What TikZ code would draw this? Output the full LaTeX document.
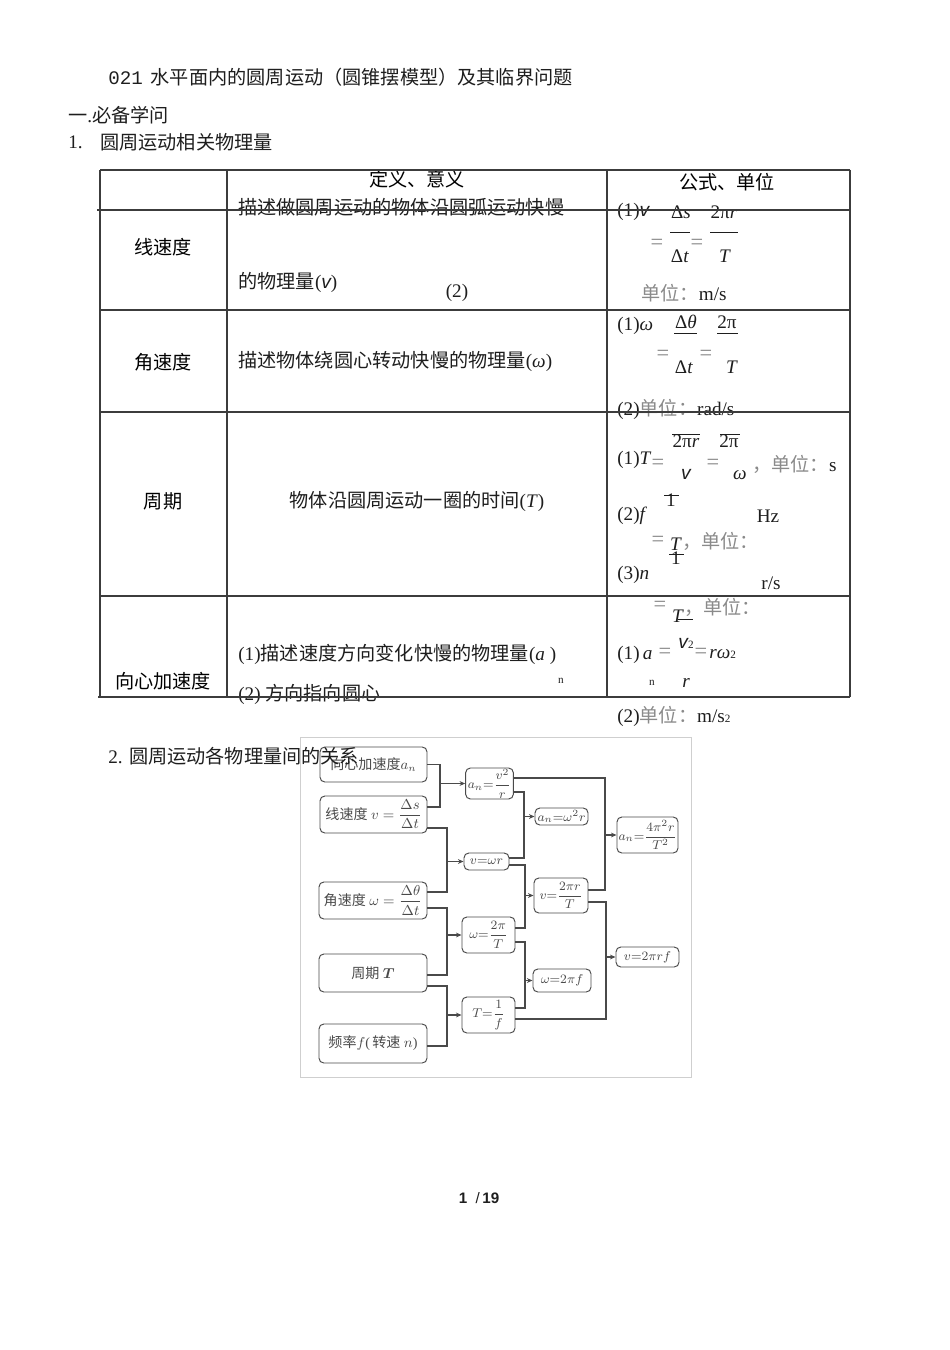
\documentclass[tikz,border=0pt]{standalone}
\usepackage{amsmath}
\usepackage{fontspec}
\setmainfont{Liberation Serif}
\setsansfont{Liberation Sans}
\setmonofont{Liberation Mono}
\newfontfamily\cjk{Noto Sans CJK SC}
\usetikzlibrary{calc,arrows.meta}
\definecolor{txt}{HTML}{1E1E1E}
\definecolor{gr}{HTML}{8A8A8A}
\definecolor{tl}{HTML}{3C3C3C}
\definecolor{fc}{HTML}{4A4A4A}
\definecolor{frm}{HTML}{CFCFCF}
\newcommand\C[1]{{\cjk #1}}
\newcommand\fsz{\fontsize{12}{14}\selectfont}
\newcommand\fsm{\fontsize{8.8}{10}\selectfont}
\newcommand\fsf{\fontsize{8}{9}\selectfont}
\newcommand\fss{\fontsize{7}{8}\selectfont}
\newcommand\px[1]{#1*0.626pt}
\newcommand\sv{{\sffamily\itshape v}}
\begin{document}
\begin{tikzpicture}[x=0.626pt,y=-0.626pt,
  tx/.style={anchor=west,inner sep=0,font=\fsz,text=txt},
  tc/.style={inner sep=0,font=\fsz,text=txt},
  eq/.style={inner sep=0,font=\fontsize{14}{14}\selectfont,text=gr},
  hd/.style={inner sep=0,font=\cjk\fontsize{12}{14}\selectfont,text=black},
  tab/.style={draw=tl,line width=0.8pt},
  bar/.style={draw=txt,line width=0.6pt},
  flowbox/.style={draw=fc,rounded corners=3pt,line width=0.6pt,inner sep=0,font=\fsm,text=fc},
  fbox2/.style={flowbox,font=\fsf},
  fl/.style={draw=fc,line width=0.7pt},
  fa/.style={draw=fc,line width=0.7pt,-{Stealth[length=3.5pt,width=3pt]}}]
\fill[white] (0,0) rectangle (950,1350);
\useasboundingbox (0,0) rectangle (950,1350);

% ---------- headings ----------
\node[tx] (title) at (108,77) {\texttt{021}\hspace{5pt}\C{水平面内的圆周运动（圆锥摆模型）及其临界问题}};
\node[tx] (sec1) at (68,115) {\C{一}.\C{必备学问}};
\node[tx] (num1) at (68,142) {1.};
\node[tx] (sub1) at (100,142) {\C{圆周运动相关物理量}};

% ---------- table text ----------
\node[hd] (h1) at (417,179) {定义、意义};
\node[hd] (h2) at (727,182) {公式、单位};
\node[hd] (l1) at (163,247) {线速度};
\node[hd] (l2) at (163,362) {角速度};
\node[hd] (l3) at (163,501) {周期};
\node[hd] (l4) at (163,681) {向心加速度};

\node[tx] (m1a) at (238,207) {\C{描述做圆周运动的物体沿圆弧运动快慢}};
\node[tx] (m1b) at (238,282) {\C{的物理量}(\sv)};
\node[tc] (m1c) at (457,293) {(2)};
\node[tx] (m2) at (238,361) {\C{描述物体绕圆心转动快慢的物理量}(\textit{ω})};
\node[tc] (m3) at (417,501) {\C{物体沿圆周运动一圈的时间}(\textit{T})};
\node[tx] (m4a) at (238,654) {(1)\C{描述速度方向变化快慢的物理量}(\textit{a} )};
\node[tc,font=\fss] (m4n) at (561,681) {n};
\node[tx] (m4b) at (238,694) {(2) \C{方向指向圆心}};

% row 1 right
\node[tx] (r1a) at (617,212) {(1)\sv};
\node[tc] (r1b) at (681,212) {Δ\textit{s}};
\node[tc] (r1c) at (724,212) {2π\textit{r}};
\draw[bar] (670,232) -- (690,232);
\draw[bar] (710,232) -- (738,232);
\node[eq] (r1e1) at (657,244) {=};
\node[eq] (r1e2) at (697,244) {=};
\node[tc] (r1d) at (680,256) {Δ\textit{t}};
\node[tc] (r1f) at (725,256) {\textit{T}};
\node[tx] (r1u) at (641,293) {\textcolor{gr}{\C{单位：}}m/s};

% row 2 right
\node[tx] (r2a) at (617,326) {(1)\textit{ω}};
\node[tc] (r2b) at (686,322) {Δ\textit{θ}};
\node[tc] (r2c) at (727,322) {2π};
\draw[bar] (674,333) -- (697,333);
\draw[bar] (717,333) -- (738,333);
\node[eq] (r2e1) at (663,355) {=};
\node[eq] (r2e2) at (706,355) {=};
\node[tc] (r2d) at (684,367) {Δ\textit{t}};
\node[tc] (r2f) at (732,367) {\textit{T}};
\node[tx] (r2u) at (617,409) {(2)\textcolor{gr}{\C{单位：}}rad/s};

% row 3 right
\draw[bar] (672,434) -- (700,434);
\draw[bar] (720,434) -- (740,434);
\node[tc] (r3b) at (686,441) {2π\textit{r}};
\node[tc] (r3c) at (729,441) {2π};
\node[tx] (r3a) at (617,460) {(1)\textit{T}};
\node[eq] (r3e1) at (658,464) {=};
\node[tc] (r3v) at (686,474) {\sv};
\node[eq] (r3e2) at (713,464) {=};
\node[tc] (r3w) at (740,475) {\textit{ω}};
\node[tx] (r3u) at (752,464) {\textcolor{gr}{\C{，单位：}}s};
\node[tc] (r3one) at (671,500) {1};
\draw[bar] (664,495) -- (679,495);
\node[tx] (r3f) at (617,516) {(2)\textit{f}};
\node[tc] (r3hz) at (768,516) {Hz};
\node[eq] (r3e3) at (658,541) {=};
\node[tc] (r3T) at (676,544) {\textit{T}};
\node[tx] (r3u2) at (682,541) {\textcolor{gr}{\C{，单位：}}};
\node[tc] (r3one2) at (676,558) {1};
\draw[bar] (669,554) -- (684,554);
\node[tx] (r3n) at (617,575) {(3)\textit{n}};
\node[tc] (r3rs) at (771,583) {r/s};
\node[eq] (r3e4) at (660,606) {=};
\node[tc] (r3T2) at (678,616) {\textit{T}};
\draw[bar] (678,619) -- (693,619);
\node[tx] (r3u3) at (684,607) {\textcolor{gr}{\C{，单位：}}};

% row 4 right
\node[tx] (r4a) at (617,655) {(1)\,\textit{a}};
\node[eq] (r4e1) at (665,653) {=};
\node[tc] (r4v) at (686,643) {\sv\fss 2};
\node[eq] (r4e2) at (701,653) {=};
\node[tx] (r4b) at (709,654) {\textit{rω}\fss 2};
\node[tc,font=\fss] (r4n) at (652,683) {n};
\node[tc] (r4r) at (686,683) {\textit{r}};
\node[tx] (r4u) at (617,716) {(2)\textcolor{gr}{\C{单位：}}m/s\fss 2};

% ---------- table lines ----------
\draw[tab] (100,170) -- (850,170);
\draw[tab] (97,210) -- (850,210);
\draw[tab] (100,310) -- (850,310);
\draw[tab] (100,412) -- (850,412);
\draw[tab] (100,596) -- (850,596);
\draw[tab] (98,697) -- (850,697);
\draw[tab] (100,170) -- (100,697);
\draw[tab] (227,170) -- (227,697);
\draw[tab] (607,170) -- (607,697);
\draw[tab] (850,170) -- (850,697);

% ---------- flow chart ----------
\draw[frm,line width=0.6pt] (300,737) rectangle (691,1077);

\node[flowbox,minimum width={\px{107}},minimum height={\px{35}}] (ac) at (373.5,764.5) {\C{向心加速度}$a_n$};
\node[flowbox,minimum width={\px{107}},minimum height={\px{37}}] (lv) at (373.5,814.5) {\C{线速度} $v=\dfrac{\Delta s}{\Delta t}$};
\node[flowbox,minimum width={\px{108}},minimum height={\px{37}}] (av) at (373,900.5) {\C{角速度} $\omega=\dfrac{\Delta \theta}{\Delta t}$};
\node[flowbox,minimum width={\px{108}},minimum height={\px{38}}] (pT) at (373,973) {\C{周期} $\boldsymbol{T}$};
\node[flowbox,minimum width={\px{108}},minimum height={\px{39}}] (fr) at (373,1043.5) {\C{频率}$f$(\,\C{转速} $n$)};

\node[fbox2,minimum width={\px{41}},minimum height={\px{31}}] (f1) at (489.5,783.5) {\,$a_n{=}\dfrac{v^2}{r}$\,};
\node[fbox2,minimum width={\px{45}},minimum height={\px{17}}] (f2) at (486.5,861.5) {$v{=}\omega r$};
\node[fbox2,minimum width={\px{53}},minimum height={\px{36}}] (f3) at (488.5,935) {$\omega{=}\dfrac{2\pi}{T}$};
\node[fbox2,minimum width={\px{53}},minimum height={\px{36}}] (f4) at (488.5,1015) {$T{=}\dfrac{1}{f}$};

\node[fbox2,minimum width={\px{53}},minimum height={\px{17}}] (g1) at (561.5,816.5) {$a_n{=}\omega^2 r$};
\node[fbox2,minimum width={\px{54}},minimum height={\px{35}}] (g2) at (561,895.5) {$v{=}\dfrac{2\pi r}{T}$};
\node[fbox2,minimum width={\px{58}},minimum height={\px{23}}] (g3) at (562,980.5) {$\omega{=}2\pi f$};

\node[fbox2,minimum width={\px{61}},minimum height={\px{36}}] (h1b) at (647.5,835) {$a_n{=}\dfrac{4\pi^2 r}{T^2}$};
\node[fbox2,minimum width={\px{63}},minimum height={\px{20}}] (h2b) at (647.5,957) {$v{=}2\pi rf$};

% junction coordinates
\coordinate (j1) at (440,783.5);
\coordinate (j2) at (447,861.5);
\coordinate (j3) at (447,935);
\coordinate (j4) at (447,1015);
\coordinate (j5) at (524,816.5);
\coordinate (j6) at (525,895.5);
\coordinate (j7) at (525,980.5);
\coordinate (j8) at (605,835);
\coordinate (j9) at (606,957);

\draw[fl] (ac.east) -| (j1) |- ($(lv.east)+(0,-7.5)$);
\draw[fa] (j1) -- (f1.west);
\draw[fl] ($(lv.east)+(0,13.5)$) -| (j2) |- ($(av.east)+(0,-8.5)$);
\draw[fa] (j2) -- (f2.west);
\draw[fl] ($(av.east)+(0,7.5)$) -| (j3) |- ($(pT.east)+(0,2)$);
\draw[fa] (j3) -- (f3.west);
\draw[fl] ($(pT.east)+(0,13)$) -| (j4) |- ($(fr.east)+(0,2.5)$);
\draw[fa] (j4) -- (f4.west);

\draw[fl] ($(f1.east)+(0,8.5)$) -| (j5) |- ($(f2.east)+(0,-3.5)$);
\draw[fa] (j5) -- (g1.west);
\draw[fl] ($(f2.east)+(0,3.5)$) -| (j6) |- ($(f3.east)+(0,-7)$);
\draw[fa] (j6) -- (g2.west);
\draw[fl] ($(f3.east)+(0,7)$) -| (j7) |- ($(f4.east)+(0,-7)$);
\draw[fa] (j7) -- (g3.west);

\draw[fl] ($(f1.east)+(0,-5.5)$) -| (j8) |- ($(g2.east)+(0,-5.5)$);
\draw[fa] (j8) -- (h1b.west);
\draw[fl] ($(g2.east)+(0,6.5)$) -| (j9) |- ($(f4.east)+(0,4)$);
\draw[fa] (j9) -- (h2b.west);

\node[tx] (sec2) at (108,756) {2. \C{圆周运动各物理量间的关系}};

% page number
\node[inner sep=0,font=\sffamily\fontsize{9.5}{10}\selectfont,text=txt] (pg) at (479,1198) {\textbf{1}\ \ /\,\textbf{19}};
\end{tikzpicture}
\end{document}
